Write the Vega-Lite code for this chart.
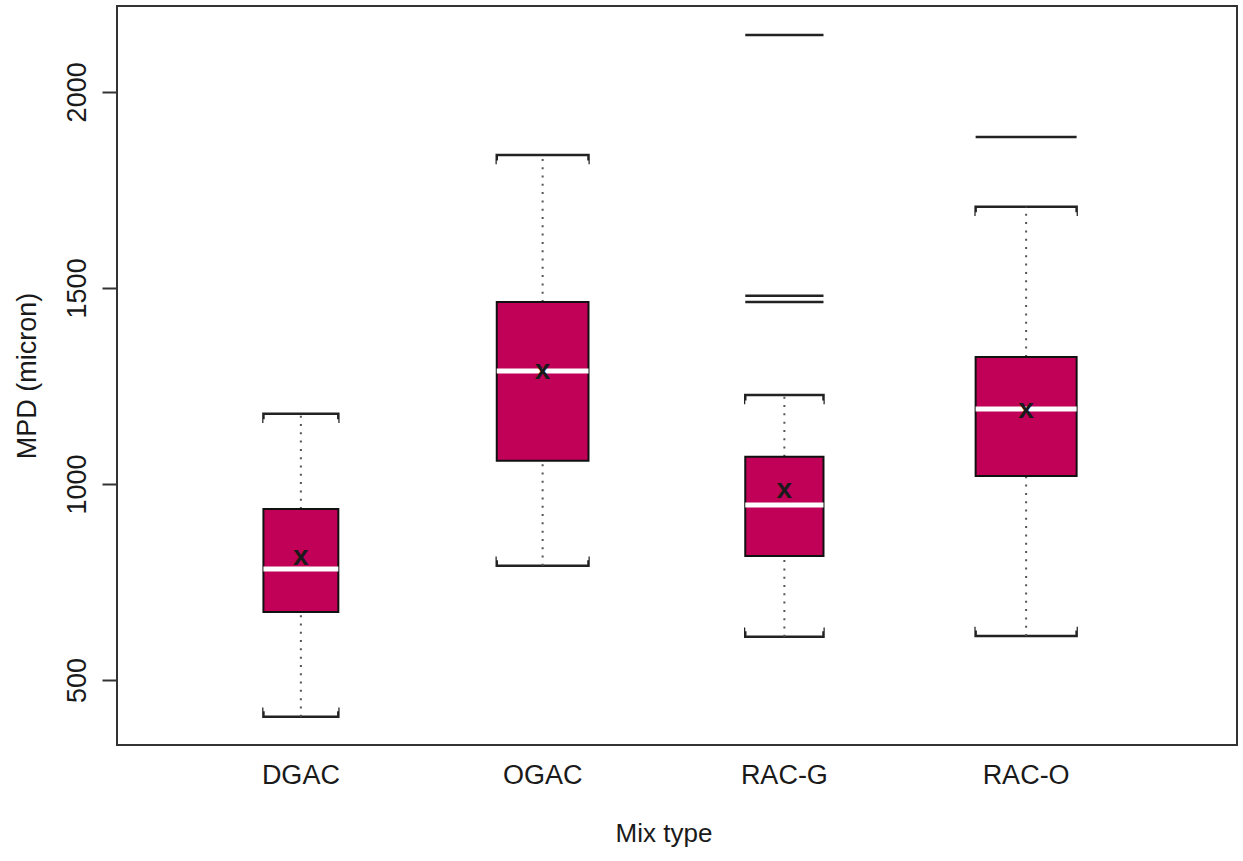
{
  "$schema": "https://vega.github.io/schema/vega-lite/v6.json",
  "width": 1120,
  "height": 739,
  "autosize": {"type": "none"},
  "padding": {"left": 117, "top": 6, "right": 6, "bottom": 116},
  "background": "white",
  "config": {
    "view": {"stroke": "#333333", "strokeWidth": 2},
    "font": "Liberation Sans",
    "axis": {"grid": false, "labelColor": "#1a1a1a", "titleColor": "#1a1a1a", "titleFontWeight": "normal"}
  },
  "datasets": {
    "stats": [
      {"group": "DGAC", "n": 22, "lo": 406, "q1": 673, "median": 783, "q3": 936, "hi": 1179, "mean": 806},
      {"group": "OGAC", "n": 33, "lo": 791, "q1": 1059, "median": 1288, "q3": 1464, "hi": 1839, "mean": 1280},
      {"group": "RAC-G", "n": 24, "lo": 610, "q1": 816, "median": 946, "q3": 1069, "hi": 1227, "mean": 977},
      {"group": "RAC-O", "n": 40, "lo": 612, "q1": 1020, "median": 1191, "q3": 1324, "hi": 1707, "mean": 1181}
    ],
    "outliers": [
      {"group": "RAC-G", "n": 24, "value": 2145},
      {"group": "RAC-G", "n": 24, "value": 1480},
      {"group": "RAC-G", "n": 24, "value": 1464},
      {"group": "RAC-O", "n": 40, "value": 1885}
    ]
  },
  "encoding": {
    "x": {
      "field": "group",
      "type": "nominal",
      "scale": {"domain": ["DGAC", "OGAC", "RAC-G", "RAC-O"], "range": [63, 1030], "paddingInner": 0, "paddingOuter": 0},
      "axis": {"ticks": false, "domain": false, "labelAngle": 0, "labelFontSize": 27, "labelPadding": 17, "titleFontSize": 26, "titlePadding": 32},
      "title": "Mix type"
    }
  },
  "layer": [
    {
      "data": {"name": "stats"},
      "mark": {"type": "bar", "fillOpacity": 0, "stroke": "#222222", "strokeWidth": 2.5, "y2Offset": 8},
      "encoding": {
        "y": {
          "field": "hi", "type": "quantitative",
          "scale": {"domain": [334, 2219], "nice": false, "zero": false},
          "axis": {"values": [500, 1000, 1500, 2000], "format": "d", "domain": false, "tickSize": 15, "tickWidth": 2, "tickColor": "#333333", "labelAngle": -90, "labelFontSize": 27, "labelPadding": 11, "titleFontSize": 27, "titlePadding": 22},
          "title": "MPD (micron)"
        },
        "y2": {"field": "hi"},
        "size": {"field": "n", "type": "quantitative", "scale": {"type": "sqrt", "domain": [0, 40], "range": [0, 101]}, "legend": null}
      }
    },
    {
      "data": {"name": "stats"},
      "mark": {"type": "bar", "fillOpacity": 0, "stroke": "#222222", "strokeWidth": 2.5, "y2Offset": -8},
      "encoding": {
        "y": {"field": "lo", "type": "quantitative"},
        "y2": {"field": "lo"},
        "size": {"field": "n", "type": "quantitative", "legend": null}
      }
    },
    {
      "data": {"name": "stats"},
      "mark": {"type": "tick", "color": "white", "opacity": 1, "thickness": 5, "orient": "horizontal", "yOffset": 8},
      "encoding": {
        "y": {"field": "hi", "type": "quantitative"},
        "size": {"field": "n", "type": "quantitative", "legend": null}
      }
    },
    {
      "data": {"name": "stats"},
      "mark": {"type": "tick", "color": "white", "opacity": 1, "thickness": 5, "orient": "horizontal", "yOffset": -8},
      "encoding": {
        "y": {"field": "lo", "type": "quantitative"},
        "size": {"field": "n", "type": "quantitative", "legend": null}
      }
    },
    {
      "data": {"name": "stats"},
      "mark": {"type": "rule", "color": "#555555", "strokeWidth": 2, "strokeDash": [2, 6.3]},
      "encoding": {
        "y": {"field": "q3", "type": "quantitative"},
        "y2": {"field": "hi"}
      }
    },
    {
      "data": {"name": "stats"},
      "mark": {"type": "rule", "color": "#555555", "strokeWidth": 2, "strokeDash": [2, 6.3]},
      "encoding": {
        "y": {"field": "lo", "type": "quantitative"},
        "y2": {"field": "q1"}
      }
    },
    {
      "data": {"name": "outliers"},
      "mark": {"type": "tick", "color": "#222222", "opacity": 1, "thickness": 2.5, "orient": "horizontal"},
      "encoding": {
        "y": {"field": "value", "type": "quantitative"},
        "size": {"field": "n", "type": "quantitative", "legend": null}
      }
    },
    {
      "data": {"name": "stats"},
      "mark": {"type": "bar", "fill": "#c10058", "stroke": "#111111", "strokeWidth": 2},
      "encoding": {
        "y": {"field": "q3", "type": "quantitative"},
        "y2": {"field": "q1"},
        "size": {"field": "n", "type": "quantitative", "legend": null}
      }
    },
    {
      "data": {"name": "stats"},
      "mark": {"type": "tick", "color": "white", "opacity": 1, "thickness": 5, "orient": "horizontal"},
      "encoding": {
        "y": {"field": "median", "type": "quantitative"},
        "size": {"field": "n", "type": "quantitative", "legend": null}
      }
    },
    {
      "data": {"name": "stats"},
      "mark": {"type": "text", "text": "x", "fontSize": 28, "fontWeight": "bold", "color": "#1a1a1a", "baseline": "middle", "align": "center", "dy": -3},
      "encoding": {
        "y": {"field": "mean", "type": "quantitative"}
      }
    }
  ]
}
